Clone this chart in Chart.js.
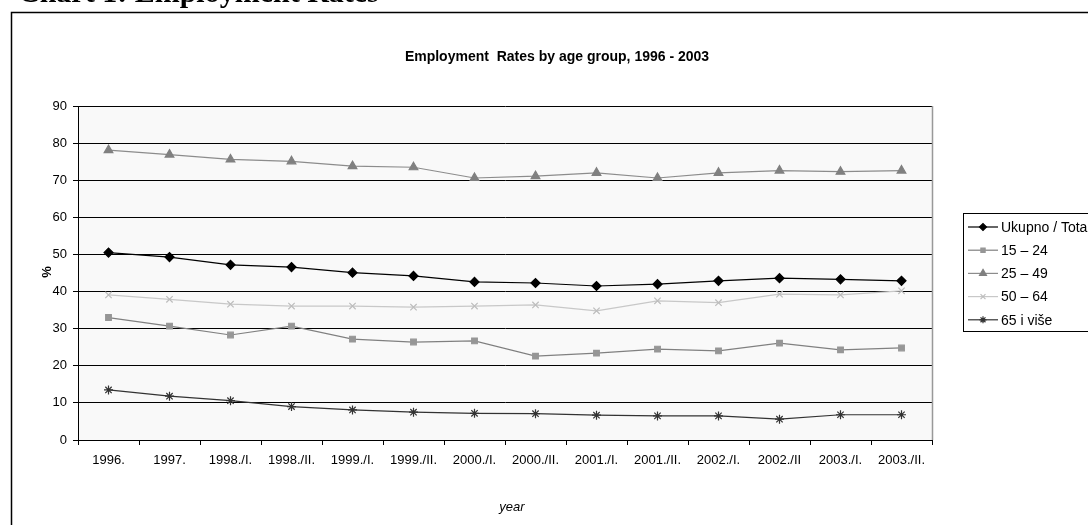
<!DOCTYPE html>
<html>
<head>
<meta charset="utf-8">
<script src="https://cdn.jsdelivr.net/npm/chart.js@4/dist/chart.umd.min.js"></script>
<style>
  html, body { margin: 0; padding: 0; background: #fff; }
  #wrap { width: 1088px; height: 525px; overflow: hidden; }
  canvas { display: block; }
</style>
</head>
<body>
<div id="wrap"><canvas id="myChart" width="1088" height="525"></canvas></div>
<script>
const periods = ["1996.", "1997.", "1998./I.", "1998./II.", "1999./I.", "1999./II.", "2000./I.",
  "2000./II.", "2001./I.", "2001./II.", "2002./I.", "2002./II", "2003./I.", "2003./II."];

const total   = [50.5, 49.3, 47.2, 46.6, 45.1, 44.2, 42.6, 42.3, 41.5, 42.0, 42.9, 43.6, 43.3, 42.9];
const age1524 = [33.0, 30.7, 28.3, 30.7, 27.2, 26.4, 26.7, 22.6, 23.4, 24.5, 24.0, 26.1, 24.3, 24.8];
const age2549 = [78.1, 76.9, 75.6, 75.1, 73.8, 73.5, 70.6, 71.1, 72.0, 70.6, 72.0, 72.6, 72.3, 72.6];
const age5064 = [39.1, 37.9, 36.6, 36.1, 36.1, 35.8, 36.1, 36.4, 34.8, 37.5, 37.0, 39.3, 39.1, 40.2];
const age65   = [13.5, 11.8, 10.6, 9.0, 8.1, 7.5, 7.2, 7.1, 6.7, 6.5, 6.5, 5.6, 6.8, 6.8];

const yTicks = [0, 10, 20, 30, 40, 50, 60, 70, 80, 90];

const SANS = "Arial, 'Liberation Sans', sans-serif";

function series(label, data, line, fill, style, radius) {
  return {
    label: label,
    data: data,
    borderColor: line,
    borderWidth: 1.2,
    tension: 0,
    pointStyle: style,
    pointRadius: radius,
    pointBackgroundColor: fill,
    pointBorderColor: fill,
    pointBorderWidth: 1.2
  };
}

const datasets = [
  series("Ukupno / Total", total, "#000000", "#000000", "rectRot", 4.5),
  series("15 \u2013 24", age1524, "#808080", "#969696", "rect", 4),
  series("25 \u2013 49", age2549, "#8c8c8c", "#808080", "triangle", 5),
  series("50 \u2013 64", age5064, "#c8c8c8", "#bdbdbd", "crossRot", 4.5),
  series("65 i vi\u0161e", age65, "#333333", "#333333", "star", 4.5)
];

// page furniture: heading, frame, plot background, titles and legend
const decor = {
  id: "decor",
  beforeDraw(chart) {
    const ctx = chart.ctx;
    const a = chart.chartArea;
    ctx.save();
    ctx.fillStyle = "#fff";
    ctx.fillRect(0, 0, chart.width, chart.height);

    ctx.fillStyle = "#000";
    ctx.font = "bold 30px 'Liberation Serif', 'Times New Roman', serif";
    ctx.textBaseline = "alphabetic";
    ctx.textAlign = "left";
    ctx.fillText("Chart 1: Employment Rates", 18, 2);

    ctx.strokeStyle = "#000";
    ctx.lineWidth = 1.5;
    ctx.strokeRect(11.5, 12.5, 1200, 600);

    ctx.fillStyle = "#f9f9f9";
    ctx.fillRect(a.left, a.top, a.right - a.left, a.bottom - a.top);
    ctx.restore();
  },
  afterDraw(chart) {
    const ctx = chart.ctx;
    const a = chart.chartArea;
    ctx.save();
    ctx.strokeStyle = "#999";
    ctx.lineWidth = 1.5;
    ctx.beginPath();
    ctx.moveTo(a.right + 0.5, a.top);
    ctx.lineTo(a.right + 0.5, a.bottom);
    ctx.stroke();

    ctx.fillStyle = "#000";
    ctx.textAlign = "center";
    ctx.textBaseline = "middle";
    ctx.font = "bold 14px " + SANS;
    ctx.fillText("Employment  Rates by age group, 1996 - 2003", 557, 57);

    ctx.font = "italic 13px " + SANS;
    ctx.fillText("year", 512, 507);

    ctx.save();
    ctx.translate(47, 272);
    ctx.rotate(-Math.PI / 2);
    ctx.font = "bold 13px " + SANS;
    ctx.fillText("%", 0, 0);
    ctx.restore();

    // legend
    const lx = 963, ly = 213;
    ctx.fillStyle = "#fff";
    ctx.fillRect(lx, ly, 200, 118);
    ctx.strokeStyle = "#000";
    ctx.lineWidth = 1;
    ctx.strokeRect(lx + 0.5, ly + 0.5, 200, 118);
    ctx.textAlign = "left";
    ctx.font = "14px " + SANS;
    chart.data.datasets.forEach((ds, i) => {
      const y = 227 + i * 23.2;
      ctx.strokeStyle = ds.borderColor;
      ctx.lineWidth = ds.borderWidth;
      ctx.beginPath();
      ctx.moveTo(968, y);
      ctx.lineTo(998, y);
      ctx.stroke();
      ctx.fillStyle = ds.pointBackgroundColor;
      ctx.strokeStyle = ds.pointBorderColor;
      Chart.helpers.drawPoint(ctx, {
        pointStyle: ds.pointStyle,
        radius: ds.pointRadius - 1,
        borderWidth: 1.2,
        rotation: 0
      }, 983, y);
      ctx.fillStyle = "#000";
      ctx.fillText(ds.label, 1001, y + 1);
    });
    ctx.restore();
  }
};

new Chart(document.getElementById("myChart"), {
  type: "line",
  data: { labels: periods, datasets: datasets },
  options: {
    responsive: false,
    animation: false,
    devicePixelRatio: 1,
    layout: { padding: { top: 106, right: 156, left: 0, bottom: 0 } },
    plugins: {
      legend: { display: false },
      title: { display: false },
      tooltip: { enabled: false }
    },
    scales: {
      x: {
        offset: true,
        grid: { offset: true, drawOnChartArea: false, color: "#000", tickLength: 5 },
        border: { color: "#000", width: 1 },
        ticks: { color: "#000", font: { family: SANS, size: 13 }, padding: 8, maxRotation: 0, autoSkip: false },
        afterFit(s) { s.height = 85; }
      },
      y: {
        min: yTicks[0],
        max: yTicks[yTicks.length - 1],
        afterBuildTicks(s) { s.ticks = yTicks.map(v => ({ value: v })); },
        grid: { color: "#000", lineWidth: 1, tickLength: 5 },
        border: { color: "#000", width: 1 },
        ticks: { color: "#000", font: { family: SANS, size: 13 }, padding: 6 },
        afterFit(s) { s.width = 78; }
      }
    }
  },
  plugins: [decor]
});
</script>
</body>
</html>
